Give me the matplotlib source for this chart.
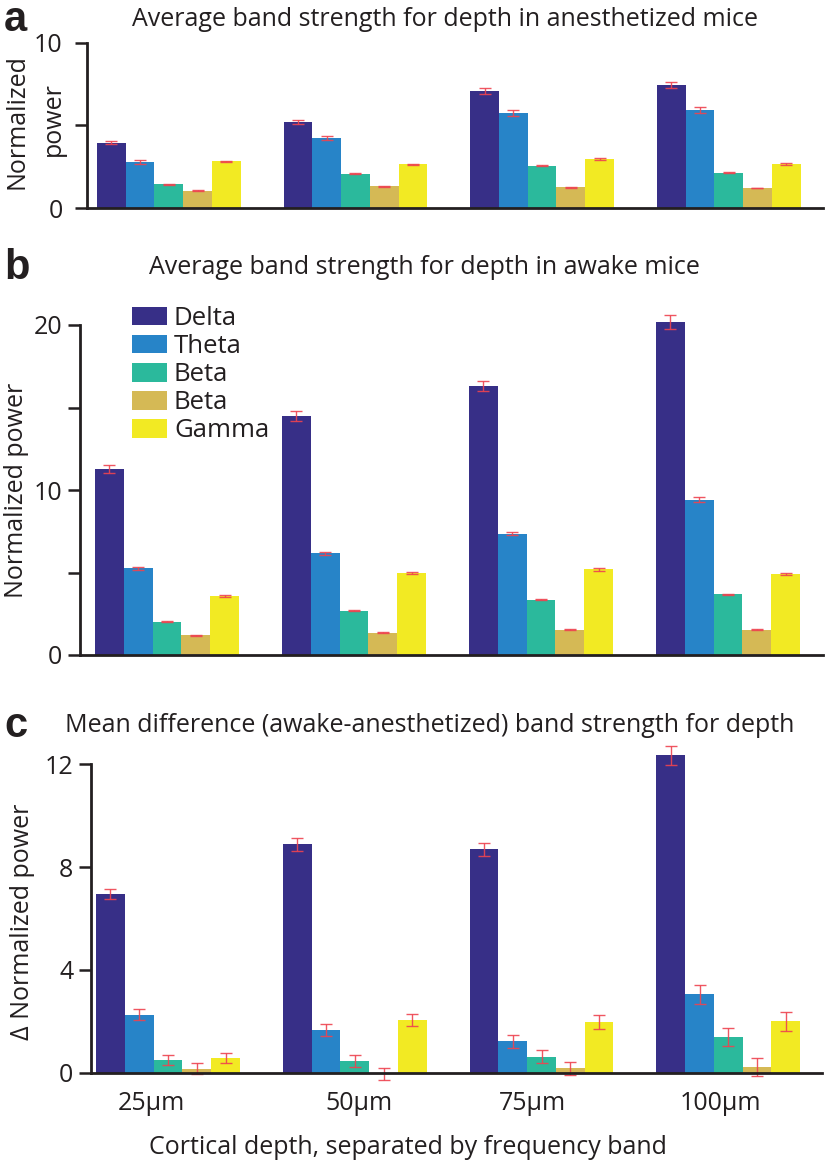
import matplotlib
matplotlib.use("Agg")
import matplotlib.pyplot as plt
import numpy as np

# ---------------- data ----------------
depths = ['25µm', '50µm', '75µm', '100µm']
bands = ['Delta', 'Theta', 'Beta', 'Beta', 'Gamma']

# Panel a: anesthetized
anes_delta = [3.95, 5.18, 7.10, 7.46]
anes_theta = [2.76, 4.21, 5.75, 5.93]
anes_beta = [1.45, 2.07, 2.56, 2.12]
anes_beta2 = [1.03, 1.33, 1.27, 1.21]
anes_gamma = [2.82, 2.66, 2.96, 2.66]
anes_delta_err = [0.10, 0.12, 0.18, 0.18]
anes_theta_err = [0.12, 0.12, 0.19, 0.19]
anes_beta_err = [0.03, 0.03, 0.03, 0.03]
anes_beta2_err = [0.03, 0.03, 0.03, 0.03]
anes_gamma_err = [0.03, 0.03, 0.04, 0.04]

# Panel b: awake
awake_delta = [11.27, 14.50, 16.30, 20.20]
awake_theta = [5.25, 6.16, 7.35, 9.40]
awake_beta = [2.02, 2.67, 3.35, 3.68]
awake_beta2 = [1.21, 1.35, 1.52, 1.52]
awake_gamma = [3.58, 4.95, 5.19, 4.91]
awake_delta_err = [0.23, 0.29, 0.33, 0.42]
awake_theta_err = [0.07, 0.07, 0.08, 0.15]
awake_beta_err = [0.03, 0.03, 0.04, 0.04]
awake_beta2_err = [0.03, 0.03, 0.03, 0.03]
awake_gamma_err = [0.07, 0.07, 0.07, 0.06]

# Panel c: difference
diff_delta = [6.95, 8.88, 8.69, 12.35]
diff_theta = [2.26, 1.66, 1.22, 3.05]
diff_beta = [0.50, 0.46, 0.62, 1.37]
diff_beta2 = [0.16, -0.05, 0.17, 0.22]
diff_gamma = [0.56, 2.06, 1.97, 2.00]
diff_delta_err = [0.19, 0.24, 0.26, 0.37]
diff_theta_err = [0.21, 0.23, 0.25, 0.36]
diff_beta_err = [0.20, 0.24, 0.25, 0.35]
diff_beta2_err = [0.21, 0.24, 0.25, 0.36]
diff_gamma_err = [0.20, 0.24, 0.26, 0.36]

colors = ['#372f87', '#2784c8', '#2bb99c', '#d5b955', '#f2ea23']
err_color = '#ee4450'
dark = '#231f20'

FONT = ['Open Sans', 'DejaVu Sans']
plt.rcParams['font.family'] = FONT
FS = 18

W, H = 826, 1166
fig = plt.figure(figsize=(W / 100, H / 100), dpi=100)


def px_axes(left, right, top, bottom):
    return fig.add_axes([left / W, 1 - bottom / H, (right - left) / W, (bottom - top) / H])


def draw_panel(ax, means, errs, xlim, ylim, yticks, ylabels, tickpad):
    x = np.arange(len(depths))
    w = 0.154
    for i, (m, e) in enumerate(zip(means, errs)):
        pos = x + (i - 2) * w
        ax.bar(pos, m, width=w, color=colors[i], edgecolor='none', clip_on=False,
               label=bands[i], zorder=2)
        ax.errorbar(pos, m, yerr=e, fmt='none', ecolor=err_color, elinewidth=1.0,
                    capsize=4, capthick=1.0, clip_on=False, zorder=3, alpha=0.9)
    ax.set_xlim(*xlim)
    ax.set_ylim(*ylim)
    ax.set_yticks(yticks)
    ax.set_yticklabels(ylabels)
    for s in ['top', 'right']:
        ax.spines[s].set_visible(False)
    for s in ['left', 'bottom']:
        ax.spines[s].set_color(dark)
        ax.spines[s].set_linewidth(2.0)
    ax.spines['bottom'].set_zorder(4)
    ax.tick_params(axis='y', length=8.5, width=1.8, color=dark, labelsize=FS,
                   labelcolor=dark, pad=tickpad)
    ax.tick_params(axis='x', length=0)
    ax.set_xticks([])


# Panel a
ax_a = px_axes(87, 823, 42.7, 208)
draw_panel(ax_a,
           [anes_delta, anes_theta, anes_beta, anes_beta2, anes_gamma],
           [anes_delta_err, anes_theta_err, anes_beta_err, anes_beta2_err, anes_gamma_err],
           (-0.438, 3.505), (0, 10), [0, 5, 10], ['0', '', '10'], 9)

# Panel b
ax_b = px_axes(80, 823, 325, 655)
draw_panel(ax_b,
           [awake_delta, awake_theta, awake_beta, awake_beta2, awake_gamma],
           [awake_delta_err, awake_theta_err, awake_beta_err, awake_beta2_err, awake_gamma_err],
           (-0.465, 3.508), (0, 20), [0, 5, 10, 15, 20], ['0', '', '10', '', '20'], 4.5)

# Panel c
ax_c = px_axes(90.7, 821.7, 764.3, 1072.7)
draw_panel(ax_c,
           [diff_delta, diff_theta, diff_beta, diff_beta2, diff_gamma],
           [diff_delta_err, diff_theta_err, diff_beta_err, diff_beta2_err, diff_gamma_err],
           (-0.414, 3.50), (0, 12), [0, 4, 8, 12], ['0', '4', '8', '12'], 4)
label_shift = [-0.09, 0.02, -0.05, -0.04]
ax_c.set_xticks(np.arange(len(depths)) + np.array(label_shift))
ax_c.set_xticklabels(depths)
ax_c.tick_params(axis='x', length=0, labelsize=FS, labelcolor=dark, pad=13)

# Legend in panel b
leg = ax_b.legend(loc='upper left', bbox_to_anchor=(132 / W, 1 - 306 / H),
                  bbox_transform=fig.transFigure, frameon=False, fontsize=18.5,
                  handlelength=1.36, handleheight=0.74, handletextpad=0.27,
                  labelspacing=0.12, borderpad=0, borderaxespad=0)
for t in leg.get_texts():
    t.set_color(dark)

# Titles
fig.text(445 / W, 1 - 20 / H, 'Average band strength for depth in anesthetized mice',
         ha='center', va='center', fontsize=FS, color=dark)
fig.text(424 / W, 1 - 268 / H, 'Average band strength for depth in awake mice',
         ha='center', va='center', fontsize=FS, color=dark)
fig.text(430 / W, 1 - 726 / H, 'Mean difference (awake-anesthetized) band strength for depth',
         ha='center', va='center', fontsize=FS, color=dark)

# Panel letters
for letter, ypx in [('a', 20), ('b', 268), ('c', 726)]:
    fig.text(4 / W, 1 - ypx / H, letter, ha='left', va='center', fontsize=30,
             fontweight='bold', color=dark, family=['Liberation Sans', 'DejaVu Sans'])

# Y labels
fig.text(17 / W, 1 - 122 / H, 'Normalized', rotation=90, ha='center', va='center',
         fontsize=FS, color=dark)
fig.text(53 / W, 1 - 119 / H, 'power', rotation=90, ha='center', va='center',
         fontsize=FS, color=dark)
fig.text(17 / W, 1 - 490 / H, 'Normalized power', rotation=90, ha='center', va='center',
         fontsize=FS, color=dark)
fig.text(23 / W, 1 - 922 / H, 'Δ Normalized power', rotation=90, ha='center', va='center',
         fontsize=FS, color=dark)

# X label
fig.text(408 / W, 1 - 1147 / H, 'Cortical depth, separated by frequency band',
         ha='center', va='center', fontsize=FS, color=dark)

fig.savefig('out.png', dpi=100)
